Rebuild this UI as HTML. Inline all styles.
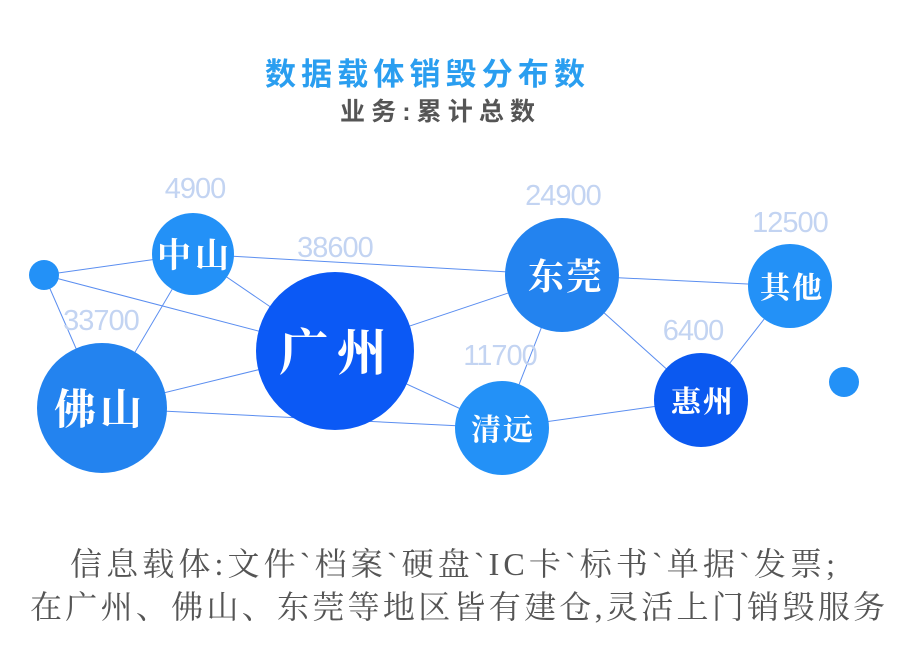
<!DOCTYPE html>
<html><head><meta charset="utf-8"><style>
body{margin:0;background:#fff;width:915px;height:647px;overflow:hidden}
svg{display:block}
.v{font-family:"Liberation Sans",sans-serif;font-size:29px;fill:#c3d4f2;text-anchor:middle;letter-spacing:-1px}
.n{font-family:"Liberation Serif","Noto Serif CJK SC",serif;fill:#fff;text-anchor:middle;font-weight:bold}
</style></head><body>
<svg width="915" height="647" xmlns="http://www.w3.org/2000/svg">
<text x="265" y="85" textLength="320" lengthAdjust="spacing" font-family="'Liberation Sans','Noto Sans CJK SC',sans-serif" font-size="31" font-weight="bold" fill="#2a9ef0">数据载体销毁分布数</text>
<text x="340" y="120" textLength="195" lengthAdjust="spacing" font-family="'Liberation Sans','Noto Sans CJK SC',sans-serif" font-size="25" font-weight="bold" fill="#555">业务:累计总数</text>
<g stroke="#5b8ef0" stroke-width="1" fill="none">
<line x1="44" y1="275" x2="193" y2="254"/>
<line x1="44" y1="275" x2="335" y2="351"/>
<line x1="44" y1="275" x2="102" y2="408"/>
<line x1="193" y1="254" x2="335" y2="351"/>
<line x1="193" y1="254" x2="562" y2="275"/>
<line x1="193" y1="254" x2="102" y2="408"/>
<line x1="102" y1="408" x2="335" y2="351"/>
<line x1="102" y1="408" x2="502" y2="428"/>
<line x1="335" y1="351" x2="562" y2="275"/>
<line x1="335" y1="351" x2="502" y2="428"/>
<line x1="562" y1="275" x2="502" y2="428"/>
<line x1="562" y1="275" x2="701" y2="400"/>
<line x1="562" y1="275" x2="790" y2="286"/>
<line x1="502" y1="428" x2="701" y2="400"/>
<line x1="701" y1="400" x2="790" y2="286"/>
</g>
<circle cx="44" cy="275" r="15" fill="#2391f7"/>
<circle cx="844" cy="382" r="15" fill="#2391f7"/>
<circle cx="193" cy="254" r="41" fill="#2391f7"/>
<circle cx="102" cy="408" r="65" fill="#2383ef"/>
<circle cx="335" cy="351" r="79" fill="#0b59f5"/>
<circle cx="562" cy="275" r="57" fill="#2383ef"/>
<circle cx="502" cy="428" r="47" fill="#2391f7"/>
<circle cx="701" cy="400" r="47" fill="#0b59f0"/>
<circle cx="790" cy="286" r="42" fill="#2391f7"/>
<text class="n" x="195" y="267" font-size="34" letter-spacing="4">中山</text>
<text class="n" x="100" y="424" font-size="42" letter-spacing="4">佛山</text>
<text class="n" x="337" y="370" font-size="50" letter-spacing="8">广州</text>
<text class="n" x="566" y="289" font-size="36" letter-spacing="2">东莞</text>
<text class="n" x="503" y="440" font-size="30" letter-spacing="2">清远</text>
<text class="n" x="703" y="412" font-size="30" letter-spacing="2">惠州</text>
<text class="n" x="792" y="298" font-size="30" letter-spacing="2">其他</text>
<text class="v" x="195" y="198">4900</text>
<text class="v" x="335" y="257">38600</text>
<text class="v" x="101" y="330">33700</text>
<text class="v" x="563" y="205">24900</text>
<text class="v" x="500" y="365">11700</text>
<text class="v" x="790" y="232">12500</text>
<text class="v" x="693" y="340">6400</text>
<text x="70" y="575" textLength="765" lengthAdjust="spacing" font-family="'Liberation Serif','Noto Serif CJK SC',serif" font-size="32" fill="#555">信息载体:文件`档案`硬盘`IC卡`标书`单据`发票;</text>
<text x="30" y="618" textLength="855" lengthAdjust="spacing" font-family="'Liberation Serif','Noto Serif CJK SC',serif" font-size="32" fill="#555">在广州、佛山、东莞等地区皆有建仓,灵活上门销毁服务</text>
</svg>
</body></html>
